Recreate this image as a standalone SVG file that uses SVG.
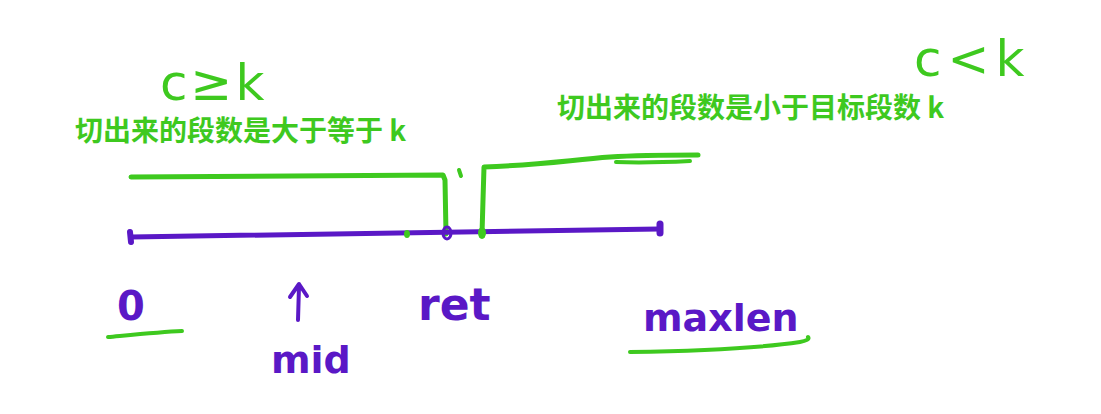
<svg xmlns="http://www.w3.org/2000/svg" width="1101" height="414" viewBox="0 0 1101 414">
<style>
.g{stroke:#3ec91f;fill:none;stroke-linecap:round;stroke-linejoin:round}
.p{stroke:#5a18c6;fill:none;stroke-linecap:round;stroke-linejoin:round}
.cn{font-family:"Noto Sans CJK SC","Noto Sans",sans-serif;font-weight:bold;fill:#3ec91f}
.hw{font-family:"DejaVu Sans",sans-serif;fill:#5a18c6;font-weight:bold}
.hg{font-family:"DejaVu Sans",sans-serif;fill:#3ec91f}
</style>
<rect width="1101" height="414" fill="#ffffff"/>
<g id="label-left">
<text class="hg" x="160" y="100" font-size="50" letter-spacing="3">c≥k</text>
<text class="cn" x="75" y="141" font-size="28">切出来的段数是大于等于 k</text>
</g>
<g id="label-right">
<text class="hg" x="914" y="76" font-size="50" letter-spacing="6">c&lt;k</text>
<text class="cn" x="557" y="118" font-size="28">切出来的段数是小于目标段数 k</text>
</g>
<g id="connectors">
<path class="g" stroke-width="5" d="M131,177 L443,175 L445,180 L446,234"/>
<path class="g" stroke-width="4" d="M459,170 L461,176"/>
<path class="g" stroke-width="5" d="M482,234 L483,200 L484,167 C540,165 570,160 610,157 C640,155 670,155 698,155"/>
<path class="g" stroke-width="4" d="M616,162 C640,163 670,162 690,161"/>
<path class="p" stroke-width="5" d="M131,237 L659,229"/>
<path class="p" stroke-width="6" d="M130,232 L131,242"/>
<path class="p" stroke-width="7" d="M660,224 L660,233"/>
<ellipse cx="407" cy="234" rx="3" ry="4" fill="#3ec91f"/>
<ellipse cx="447" cy="233" rx="4" ry="6" class="p" stroke-width="3"/>
<ellipse cx="482" cy="233" rx="4" ry="6" fill="#3ec91f"/>
</g>
<g id="axis-labels">
<text class="hw" x="117" y="320" font-size="40">0</text>
<path class="g" stroke-width="4" d="M108,337 C130,335 160,332 182,331"/>
<path class="p" stroke-width="4" d="M298,320 L299,286 M290,297 L299,284 L307,296"/>
<text class="hw" x="271" y="373" font-size="38">mid</text>
<text class="hw" x="418" y="320" font-size="44">ret</text>
<text class="hw" x="643" y="331" font-size="38">maxlen</text>
<path class="g" stroke-width="4" d="M630,352 C700,351 760,348 800,342 C806,341 810,339 808,337"/>
</g>
</svg>
